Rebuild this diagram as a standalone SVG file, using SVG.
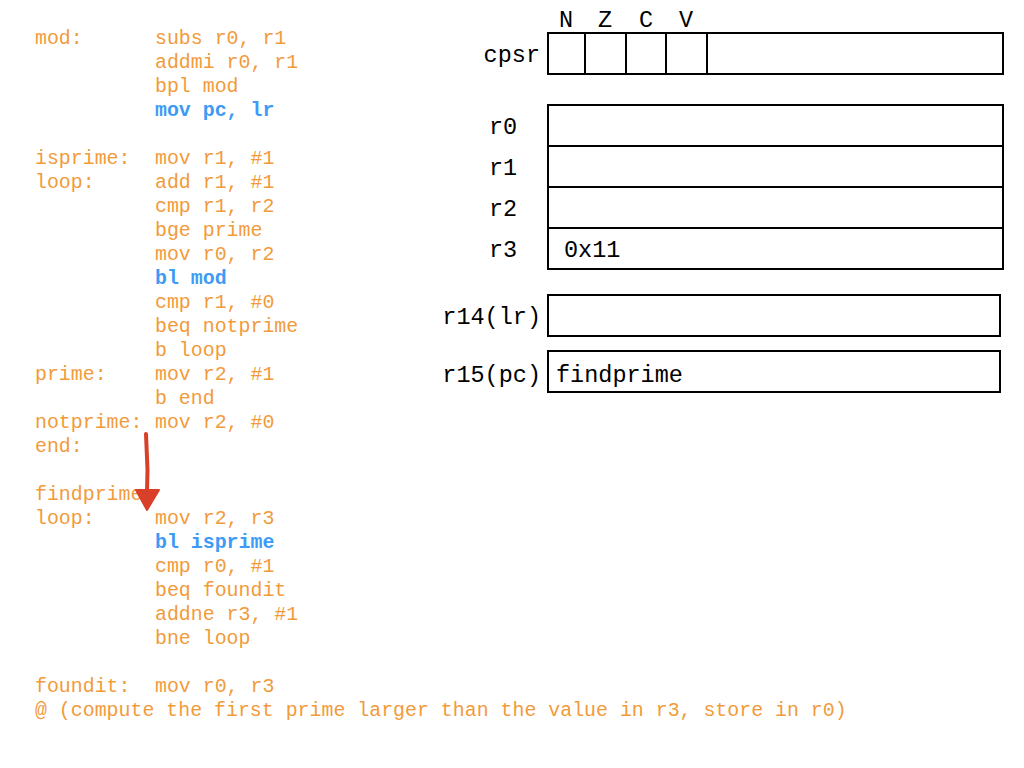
<svg xmlns="http://www.w3.org/2000/svg" width="1024" height="768" viewBox="0 0 1024 768">
<style>
.c{font-family:"Liberation Mono","DejaVu Sans Mono",monospace;font-size:19.9px;fill:#f29b3b}
.b{font-family:"Liberation Mono","DejaVu Sans Mono",monospace;font-size:19.9px;fill:#3d9bf5;font-weight:bold}
.k{font-family:"Liberation Mono","DejaVu Sans Mono",monospace;font-size:23.5px;fill:#000}
.box{fill:#fff;stroke:#000;stroke-width:2}
.ln{stroke:#000;stroke-width:2}
</style>
<rect width="1024" height="768" fill="#fff"/>
<g id="code">
<text class="c" x="35" y="44">mod:</text><text class="c" x="155" y="44">subs r0, r1</text>
<text class="c" x="155" y="68">addmi r0, r1</text>
<text class="c" x="155" y="92">bpl mod</text>
<text class="b" x="155" y="116">mov pc, lr</text>
<text class="c" x="35" y="164">isprime:</text><text class="c" x="155" y="164">mov r1, #1</text>
<text class="c" x="35" y="188">loop:</text><text class="c" x="155" y="188">add r1, #1</text>
<text class="c" x="155" y="212">cmp r1, r2</text>
<text class="c" x="155" y="236">bge prime</text>
<text class="c" x="155" y="260">mov r0, r2</text>
<text class="b" x="155" y="284">bl mod</text>
<text class="c" x="155" y="308">cmp r1, #0</text>
<text class="c" x="155" y="332">beq notprime</text>
<text class="c" x="155" y="356">b loop</text>
<text class="c" x="35" y="380">prime:</text><text class="c" x="155" y="380">mov r2, #1</text>
<text class="c" x="155" y="404">b end</text>
<text class="c" x="35" y="428">notprime:</text><text class="c" x="155" y="428">mov r2, #0</text>
<text class="c" x="35" y="452">end:</text>
<text class="c" x="35" y="500">findprime:</text>
<text class="c" x="35" y="524">loop:</text><text class="c" x="155" y="524">mov r2, r3</text>
<text class="b" x="155" y="548">bl isprime</text>
<text class="c" x="155" y="572">cmp r0, #1</text>
<text class="c" x="155" y="596">beq foundit</text>
<text class="c" x="155" y="620">addne r3, #1</text>
<text class="c" x="155" y="644">bne loop</text>
<text class="c" x="35" y="692">foundit:</text><text class="c" x="155" y="692">mov r0, r3</text>
<text class="c" x="35" y="716">@ (compute the first prime larger than the value in r3, store in r0)</text>
</g>
<g id="cpsr">
<text class="k" x="540" y="62" text-anchor="end">cpsr</text>
<rect class="box" x="548" y="33" width="455" height="41"/>
<line class="ln" x1="585" y1="33" x2="585" y2="74"/>
<line class="ln" x1="626" y1="33" x2="626" y2="74"/>
<line class="ln" x1="666" y1="33" x2="666" y2="74"/>
<line class="ln" x1="707" y1="33" x2="707" y2="74"/>
<text class="k" x="566" y="27" text-anchor="middle">N</text>
<text class="k" x="605" y="27" text-anchor="middle">Z</text>
<text class="k" x="646" y="27" text-anchor="middle">C</text>
<text class="k" x="686" y="27" text-anchor="middle">V</text>
</g>
<g id="regs">
<rect class="box" x="548" y="105" width="455" height="164"/>
<line class="ln" x1="548" y1="146" x2="1003" y2="146"/>
<line class="ln" x1="548" y1="187" x2="1003" y2="187"/>
<line class="ln" x1="548" y1="228" x2="1003" y2="228"/>
<text class="k" x="489" y="134">r0</text>
<text class="k" x="489" y="175">r1</text>
<text class="k" x="489" y="216">r2</text>
<text class="k" x="489" y="257">r3</text>
<text class="k" x="564" y="257">0x11</text>
</g>
<g id="lr">
<text class="k" x="541" y="324" text-anchor="end">r14(lr)</text>
<rect class="box" x="548" y="295" width="452" height="41"/>
</g>
<g id="pc">
<text class="k" x="541" y="382" text-anchor="end">r15(pc)</text>
<rect class="box" x="548" y="351" width="452" height="41"/>
<text class="k" x="556" y="382">findprime</text>
</g>
<g id="connectors">
<path d="M146 434 L147.5 470 L147 492" fill="none" stroke="#d8402a" stroke-width="4" stroke-linecap="round"/>
<path d="M136 490 L159 490 L147 510 Z" fill="#d8402a" stroke="#d8402a" stroke-width="2" stroke-linejoin="round"/>
</g>
</svg>
